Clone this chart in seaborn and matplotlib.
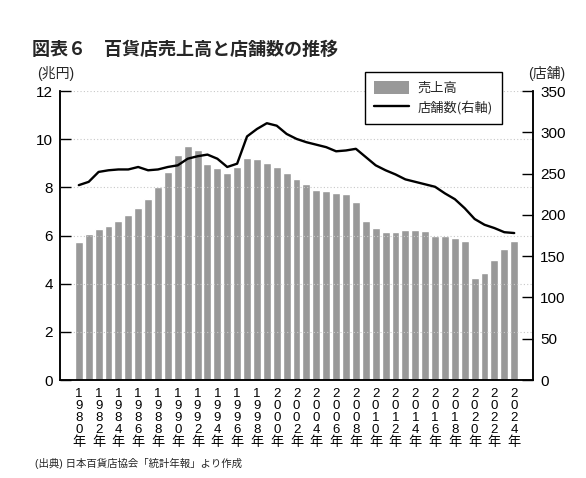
import numpy as np
import pandas as pd
import seaborn as sns
import matplotlib.pyplot as plt
from matplotlib.patches import Patch
from matplotlib.lines import Line2D

# データ
years = np.arange(1980, 2025)
sales = [5.73, 6.06, 6.27, 6.39, 6.60, 6.85, 7.14, 7.52, 8.01, 8.64,
         9.34, 9.72, 9.55, 8.97, 8.80, 8.60, 8.84, 9.22, 9.18, 9.01,
         8.84, 8.60, 8.35, 8.14, 7.89, 7.85, 7.76, 7.72, 7.39, 6.60,
         6.31, 6.15, 6.15, 6.23, 6.23, 6.19, 5.99, 5.99, 5.90, 5.77,
         4.24, 4.44, 4.98, 5.44, 5.77]
stores = [236, 240, 252, 254, 255, 255, 258, 254, 255, 258,
          260, 268, 271, 273, 268, 258, 262, 295, 304, 311,
          308, 298, 292, 288, 285, 282, 277, 278, 280, 270,
          260, 254, 249, 243, 240, 237, 234, 226, 219, 208,
          195, 188, 184, 179, 178]
tick_years = years[::2]
tick_labels = ["\n".join(str(y)) + "\n年" for y in tick_years]

df = pd.DataFrame({"年": years, "売上高": sales, "店舗数": stores})

sns.set_theme(style="white")
plt.rcParams['font.family'] = ['Liberation Sans', 'Noto Sans CJK JP']

fig = plt.figure(figsize=(5.86, 4.78), dpi=100)
ax = fig.add_axes([0.1024, 0.205, 0.8072, 0.6046])
ax2 = ax.twinx()

sns.barplot(data=df, x="年", y="売上高", native_scale=True, color="#999999",
            saturation=1, width=0.8, ax=ax)
sns.lineplot(data=df, x="年", y="店舗数", color="black", lw=1.7, ax=ax2)

ax.set_xlim(years[0] - 1.9, years[-1] + 1.9)
ax.set_ylim(0, 12)
ax.set_yticks(range(0, 13, 2))
ax2.set_ylim(0, 350)
ax2.set_yticks(range(0, 351, 50))
ax.set_xticks(tick_years)
ax.set_xticklabels(tick_labels, fontsize=9.5, linespacing=1.0, va="top")
ax.set_xlabel("")
ax.set_ylabel("")
ax2.set_ylabel("")

# 目盛り線（点線）
ax.yaxis.grid(True, linestyle=(0, (1, 2)), color="#c8c8c8", lw=0.8)
ax.set_axisbelow(False)
for b in ax.patches:
    b.set_zorder(1)

ax.tick_params(axis="y", direction="in", length=8, width=1, labelsize=11,
               pad=5, colors="black")
ax2.tick_params(axis="y", direction="in", length=8, width=1, labelsize=11,
                pad=5, colors="black")
ax.tick_params(axis="x", length=0, pad=6, colors="black")

for a in (ax, ax2):
    a.spines["top"].set_visible(False)
    for s in ("left", "right", "bottom"):
        a.spines[s].set_color("black")
        a.spines[s].set_linewidth(1.1)

handles = [Patch(facecolor="#999999", edgecolor="none"),
           Line2D([], [], color="black", lw=1.7)]
leg = ax2.legend(handles, ["売上高", "店舗数(右軸)"], loc="upper left",
                 bbox_to_anchor=(0.63, 1.09),
                 prop={"family": "Noto Sans CJK JP", "size": 9.5},
                 frameon=True, fancybox=False, edgecolor="black", framealpha=1,
                 handlelength=2.7, handleheight=1.1, borderpad=0.7,
                 labelspacing=0.45, handletextpad=0.6)
leg.get_frame().set_linewidth(1.0)

fig.text(0.055, 0.895, "図表６　百貨店売上高と店舗数の推移", fontsize=13,
         fontweight="bold", va="center", ha="left")
fig.text(0.063, 0.847, "(兆円)", fontsize=10, va="center", ha="left")
fig.text(0.965, 0.847, "(店舗)", fontsize=10, va="center", ha="right")
fig.text(0.06, 0.031, "(出典) 日本百貨店協会「統計年報」より作成", fontsize=7.5,
         va="center", ha="left")

fig.savefig("out.png", dpi=100)
